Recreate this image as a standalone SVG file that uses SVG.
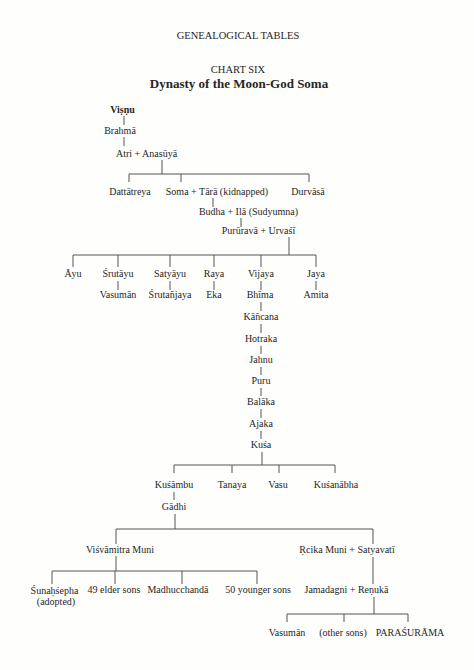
<svg xmlns="http://www.w3.org/2000/svg" width="474" height="670" viewBox="0 0 474 670">
<style>
text{font-family:"Liberation Serif","DejaVu Serif",serif;font-size:10px;fill:#262626;text-anchor:middle}
.t{font-size:10.5px}
.h{font-size:13px;font-weight:bold}
.b{font-weight:bold}
#conn path{stroke:#555;stroke-width:1;fill:none}
</style>
<rect width="474" height="670" fill="#fefefc"/>
<g id="title">
<text class="t" x="238" y="39">GENEALOGICAL TABLES</text>
<text class="t" x="238" y="73">CHART SIX</text>
<text class="h" x="239" y="88">Dynasty of the Moon-God Soma</text>
</g>
<g id="conn">
<path d="M124 116V125M124 137V146"/>
<path d="M162 160V174M129 174H309M129 174V182M181 174V182M309 174V182"/>
<path d="M213 198V207M241 218V227M289 237V255"/>
<path d="M73 255H316M73 255V267M118 255V267M170 255V267M214 255V267M261 255V267M316 255V267"/>
<path d="M118 281V290M170 281V290M214 281V290M261 281V290M316 281V290"/>
<path d="M261 302V311M261 324V333M261 346V354M261 367V375M261 388V396M261 409V418M261 431V439"/>
<path d="M262 452V465M174 465H335M174 465V473M232 465V473M279 465V473M335 465V473"/>
<path d="M174 492V500M175 514V529M116 529H373M116 529V544M116 556V571M373 529V544M373 557V584"/>
<path d="M52 571H257M52 571V584M115 571V584M182 571V584M257 571V584"/>
<path d="M374 597V614M287 614H408M287 614V622M344 614V622M408 614V622"/>
</g>
<g id="n-vishnu"><text class="b" x="122.5" y="113">Viṣṇu</text></g>
<g id="n-brahma"><text x="120" y="134">Brahmā</text></g>
<g id="n-atri"><text x="146.5" y="157">Atri + Anasūyā</text></g>
<g id="n-dattatreya"><text x="130" y="195">Dattātreya</text></g>
<g id="n-soma"><text x="217" y="195">Soma + Tārā (kidnapped)</text></g>
<g id="n-durvasa"><text x="308" y="195">Durvāsā</text></g>
<g id="n-budha"><text x="248.5" y="215">Budha + Ilā (Sudyumna)</text></g>
<g id="n-pururava"><text x="258.5" y="234">Purūravā + Urvaśī</text></g>
<g id="n-ayu"><text x="73" y="277">Āyu</text></g>
<g id="n-srutayu"><text x="118" y="277">Śrutāyu</text></g>
<g id="n-satyayu"><text x="170" y="277">Satyāyu</text></g>
<g id="n-raya"><text x="214" y="277">Raya</text></g>
<g id="n-vijaya"><text x="261" y="277">Vijaya</text></g>
<g id="n-jaya"><text x="316" y="277">Jaya</text></g>
<g id="n-vasuman1"><text x="118" y="298">Vasumān</text></g>
<g id="n-srutanjaya"><text x="170" y="298">Śrutañjaya</text></g>
<g id="n-eka"><text x="214" y="298">Eka</text></g>
<g id="n-bhima"><text x="260" y="298">Bhīma</text></g>
<g id="n-amita"><text x="316" y="298">Amita</text></g>
<g id="n-kancana"><text x="261" y="320">Kāñcana</text></g>
<g id="n-hotraka"><text x="261" y="342">Hotraka</text></g>
<g id="n-jahnu"><text x="261" y="363">Jahnu</text></g>
<g id="n-puru"><text x="261" y="384">Puru</text></g>
<g id="n-balaka"><text x="261" y="405">Balāka</text></g>
<g id="n-ajaka"><text x="261" y="427">Ajaka</text></g>
<g id="n-kusa"><text x="261" y="448">Kuśa</text></g>
<g id="n-kusambu"><text x="174" y="488">Kuśāmbu</text></g>
<g id="n-tanaya"><text x="232" y="488">Tanaya</text></g>
<g id="n-vasu"><text x="278" y="488">Vasu</text></g>
<g id="n-kusanabha"><text x="336" y="488">Kuśanābha</text></g>
<g id="n-gadhi"><text x="174" y="510">Gādhi</text></g>
<g id="n-visvamitra"><text x="120" y="553">Viśvāmitra Muni</text></g>
<g id="n-rcika"><text x="347" y="553">Ṛcika Muni + Satyavatī</text></g>
<g id="n-sunahsepha"><text x="54.5" y="594">Śunaḥśepha</text><text x="56" y="605">(adopted)</text></g>
<g id="n-elder"><text x="114" y="593">49 elder sons</text></g>
<g id="n-madhucchanda"><text x="178" y="593">Madhucchandā</text></g>
<g id="n-younger"><text x="258" y="593">50 younger sons</text></g>
<g id="n-jamadagni"><text x="346.5" y="593">Jamadagni + Reṇukā</text></g>
<g id="n-vasuman2"><text x="287" y="636">Vasumān</text></g>
<g id="n-other"><text x="343" y="636">(other sons)</text></g>
<g id="n-parasurama"><text x="410" y="636">PARAŚURĀMA</text></g>
</svg>
